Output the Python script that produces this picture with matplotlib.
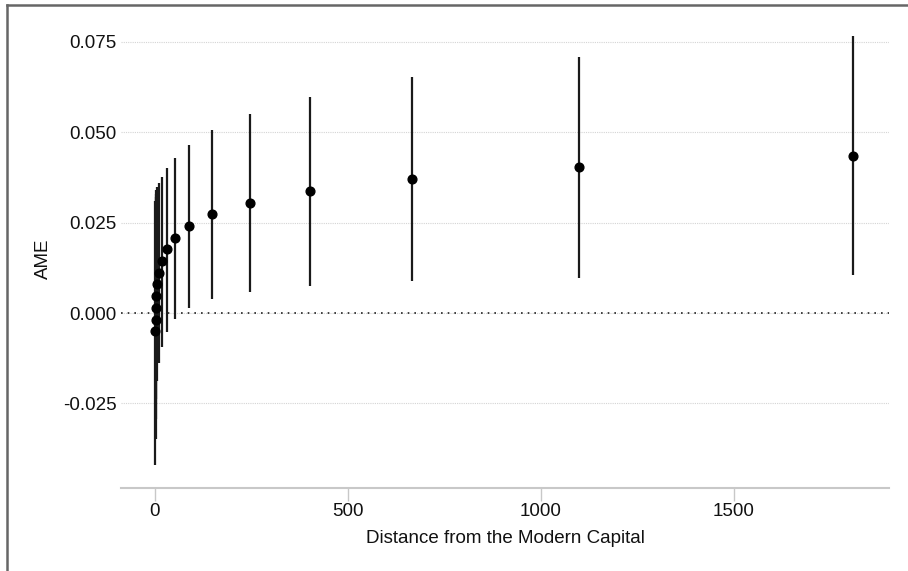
import matplotlib
matplotlib.use("Agg")
import matplotlib.pyplot as plt
from matplotlib.lines import Line2D

plt.rcParams['font.family'] = ['Liberation Sans', 'DejaVu Sans']

# Data
distance = [0.5, 1.4, 2.3, 3.8, 6.3, 10, 17.6, 31.4, 51.4, 87.8, 148, 245, 401, 665, 1100, 1810]
ame = [-0.0051, -0.0018, 0.0014, 0.0046, 0.0080, 0.0112, 0.0144, 0.0176, 0.0208, 0.0240,
       0.0273, 0.0305, 0.0337, 0.0371, 0.0403, 0.0435]
ci_upper = [0.0311, 0.0320, 0.0330, 0.0339, 0.0348, 0.0359, 0.0377, 0.0401, 0.0430, 0.0465,
            0.0505, 0.0550, 0.0598, 0.0652, 0.0708, 0.0767]
ci_lower = [-0.0419, -0.0348, -0.0293, -0.0238, -0.0188, -0.0137, -0.0094, -0.0053, -0.0016, 0.0015,
            0.0040, 0.0059, 0.0076, 0.0089, 0.0098, 0.0104]
x_ticks = [0, 500, 1000, 1500]
y_ticks = [-0.025, 0.000, 0.025, 0.050, 0.075]
y_ticklabels = ["-0.025", "0.000", "0.025", "0.050", "0.075"]

W, H = 908, 571
fig = plt.figure(figsize=(W / 100, H / 100), dpi=100)
fig.patch.set_facecolor('white')

left_px, right_px, top_px, bottom_px = 121, 889, 30, 488
ax = fig.add_axes([left_px / W, (H - bottom_px) / H,
                   (right_px - left_px) / W, (bottom_px - top_px) / H])

ax.set_xlim(-88, 1902)
ax.set_ylim(-0.0484, 0.0783)

# grid
ax.set_yticks(y_ticks)
ax.set_yticklabels(y_ticklabels)
ax.yaxis.grid(True, color='#d4d4d4', linewidth=0.8, linestyle=(0, (1, 1)))
ax.set_axisbelow(True)
ax.axhline(0, color='#222222', linewidth=1.2, linestyle=(0, (1, 3)), zorder=1)

# CIs and point estimates
ax.vlines(distance, ci_lower, ci_upper, colors='#1a1a1a', linewidth=1.6, zorder=2)
ax.plot(distance, ame, 'o', color='black', markersize=6.3, zorder=3)

# axes styling
for s in ['left', 'right', 'top']:
    ax.spines[s].set_visible(False)
ax.spines['bottom'].set_color('#c8c8c8')
ax.spines['bottom'].set_linewidth(1.5)

ax.set_xticks(x_ticks)
ax.tick_params(axis='x', length=9, width=1, color='#c8c8c8', pad=2, labelsize=13.5, labelcolor='#111111')
ax.tick_params(axis='y', length=0, pad=3, labelsize=13.5, labelcolor='#111111')

ax.set_xlabel("Distance from the Modern Capital", fontsize=13.5, color='#111111')
ax.xaxis.set_label_coords(0.5, -(530 - bottom_px) / (bottom_px - top_px))
ax.set_ylabel("AME", fontsize=13.5, color='#111111')
ax.yaxis.set_label_coords((52 - left_px) / (right_px - left_px), 0.5)

# outer frame (top and left edges visible in reference)
fig.add_artist(Line2D([7 / W, 7 / W], [0, 1 - 5 / H], transform=fig.transFigure,
                      color='#666666', linewidth=1.8))
fig.add_artist(Line2D([7 / W, 1], [1 - 5 / H, 1 - 5 / H], transform=fig.transFigure,
                      color='#666666', linewidth=1.8))

fig.savefig("out.png", dpi=100, facecolor='white')
